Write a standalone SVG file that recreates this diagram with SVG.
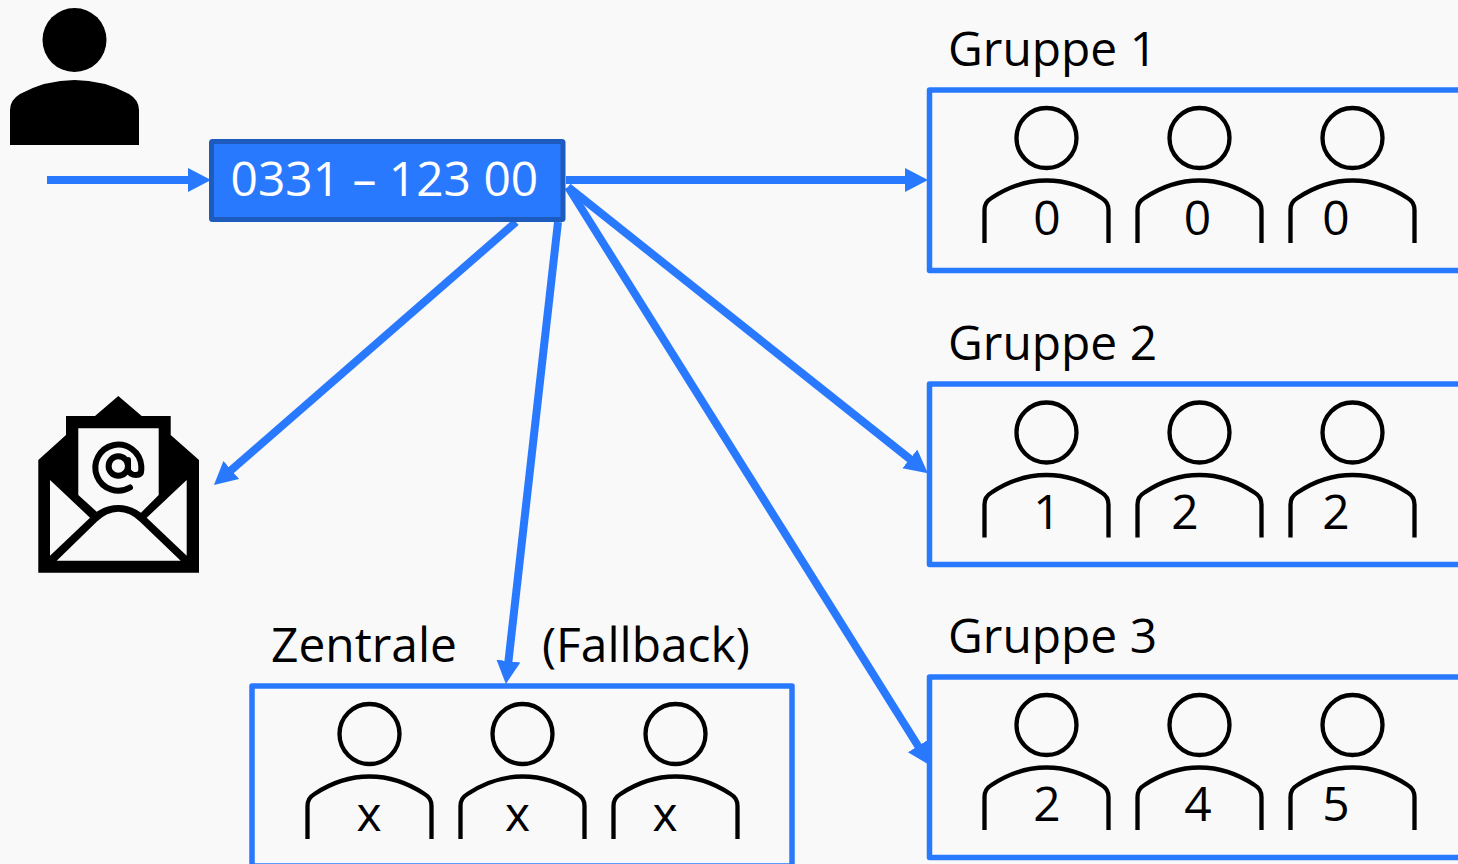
<svg xmlns="http://www.w3.org/2000/svg" width="1458" height="864" viewBox="0 0 1458 864">
<style>
text{font-family:"Open Sans","Noto Sans",sans-serif;fill:#000}
.t{font-size:47.900px}
.n{font-size:47.900px;text-anchor:middle}
.box{fill:none;stroke:#2979ff;stroke-width:5.500;stroke-linejoin:round}
.c{fill:none;stroke:#2979ff;stroke-width:8;marker-end:url(#a)}
.p{fill:none;stroke:#000;stroke-width:4.300}
</style>
<defs>
<marker id="a" markerUnits="userSpaceOnUse" markerWidth="24" markerHeight="26" refX="13" refY="12" orient="auto"><path d="M0 0L23 12L0 24Z" fill="#2979ff"/></marker>
<g id="person" class="p"><circle cx="0" cy="0" r="30"/><path d="M-62 105V72Q-62 64-55 60C-40 50-20 42.500 0 42.500C20 42.500 40 50 55 60Q62 64 62 72V105"/></g>
</defs>
<rect width="1458" height="864" fill="#f9f9f9"/>
<g id="connectors">
<path class="c" d="M47 180H201"/>
<path class="c" d="M566 180H918"/>
<path class="c" d="M516 222L221.500 478.500"/>
<path class="c" d="M558 222L507 674"/>
<path class="c" d="M568 187L920 467"/>
<path class="c" d="M568 187L925 757"/>
</g>
<g id="caller"><circle cx="74.500" cy="40" r="32"/><path d="M10 145V110Q10 100 20 94Q46 80 74.500 80Q103 80 129 94Q139 100 139 110V145Z"/></g>
<g id="number"><rect x="211.500" y="141.500" width="351.500" height="78" rx="1" fill="#2979ff" stroke="#1e5bbf" stroke-width="5"/><text x="230.500" y="196" font-size="47.900" style="fill:#fff">0331 – 123 00</text></g>
<g id="mail">
<path d="M118.300 396L141.700 416H170.700V435L199 460V572.700H38.300V460L66 435V416H95Z"/>
<path fill="#f9f9f9" d="M78.300 428.300H158.700V495L141 512.700Q130 505 118.300 505Q107 505 96.700 511.700L78.300 495Z"/>
<path fill="#f9f9f9" d="M50 480L90 517.700L50 555.700Z"/>
<path fill="#f9f9f9" d="M186.700 480L146.700 517.700L186.700 555.700Z"/>
<path fill="#f9f9f9" d="M56.700 560.700L96.700 521.700Q107 511.700 118.300 511.700Q130 511.700 140 521.700L180.700 560.700Z"/>
<g fill="none" stroke="#000" stroke-width="6" stroke-linecap="round"><circle cx="118.300" cy="466" r="9.700"/><path d="M130 487.500A23 23 0 1 1 141.300 466V470Q141.300 475 136 475Q130 475 128 470V460"/></g>
</g>
<g id="gruppe1"><text class="t" x="948" y="66">Gruppe 1</text><path class="box" d="M1460 90H929.500V270.500H1460"/>
<use href="#person" x="1046.500" y="138"/><use href="#person" x="1199.500" y="138"/><use href="#person" x="1352.500" y="138"/>
<text class="n" x="1047" y="235">0</text><text class="n" x="1197.500" y="235">0</text><text class="n" x="1336" y="235">0</text></g>
<g id="gruppe2"><text class="t" x="948" y="360">Gruppe 2</text><path class="box" d="M1460 384H929.500V564.500H1460"/>
<use href="#person" x="1046.500" y="432.500"/><use href="#person" x="1199.500" y="432.500"/><use href="#person" x="1352.500" y="432.500"/>
<text class="n" x="1047" y="529">1</text><text class="n" x="1185" y="529">2</text><text class="n" x="1336" y="529">2</text></g>
<g id="gruppe3"><text class="t" x="948" y="653">Gruppe 3</text><path class="box" d="M1460 677H929.500V857.500H1460"/>
<use href="#person" x="1046.500" y="725"/><use href="#person" x="1199.500" y="725"/><use href="#person" x="1352.500" y="725"/>
<text class="n" x="1047" y="821">2</text><text class="n" x="1198" y="821">4</text><text class="n" x="1336" y="821">5</text></g>
<g id="zentrale"><text class="t" x="271" y="662">Zentrale</text><text class="t" x="542" y="662">(Fallback)</text><rect class="box" x="252" y="686" width="540" height="180"/>
<use href="#person" x="369.500" y="734"/><use href="#person" x="522.500" y="734"/><use href="#person" x="675.500" y="734"/>
<text class="n" x="369" y="831">x</text><text class="n" x="517.500" y="831">x</text><text class="n" x="665" y="831">x</text></g>
</svg>
